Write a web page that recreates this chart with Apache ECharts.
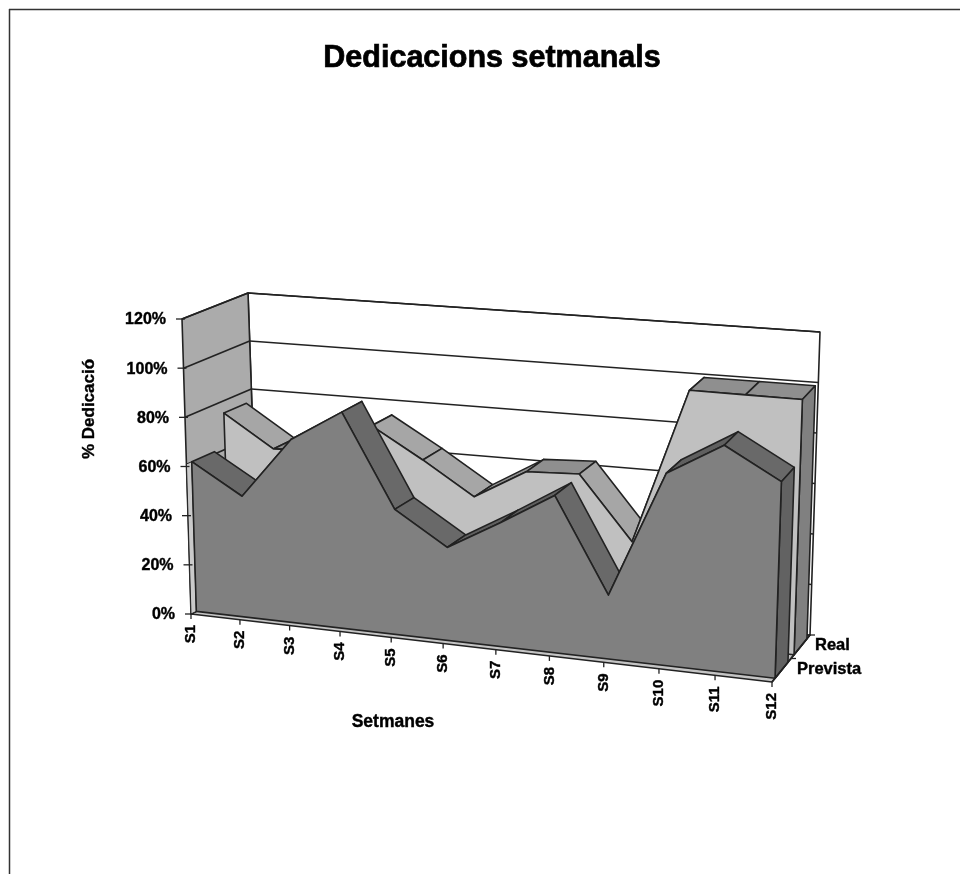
<!DOCTYPE html>
<html>
<head>
<meta charset="utf-8" />
<title>Dedicacions setmanals</title>
<script src="https://cdn.jsdelivr.net/npm/echarts@6/dist/echarts.min.js"></script>
<style>
html,body{margin:0;padding:0;background:#fff;}
#main{width:960px;height:874px;}
</style>
</head>
<body>
<div id="main"></div>
<script>
var setmanes = ['S1','S2','S3','S4','S5','S6','S7','S8','S9','S10','S11','S12'];
var prevista = [61,49,74,87,50,37,49,62,25,75,88,76];
var real = [75,62,63,75,63,50,62,63,38,100,100,100];
var yTicks = [0,20,40,60,80,100,120];
var fons = ['Prevista','Real'];

// placa del grafic (pla frontal), a partir d'aqui tot passa per project()
var G = {left:191, top:320, width:581, height:294};
var FONT = '"Liberation Sans", Arial, sans-serif';
var LINE = '#222222';

// cantonades de la caixa 3D: [u][v][w]
var C = {
  b00:[191,614], b10:[772,682], b01:[258,581], b11:[810,635],
  t00:[182,319], t10:[782,371], t01:[248,293], t11:[820,332]
};
function mix(a,b,t){ return [a[0]+(b[0]-a[0])*t, a[1]+(b[1]-a[1])*t]; }
function box(u,v,w){
  var bot = mix(mix(C.b00,C.b10,u), mix(C.b01,C.b11,u), v);
  var top = mix(mix(C.t00,C.t10,u), mix(C.t01,C.t11,u), v);
  return mix(bot,top,w);
}
// passa un punt de la graella plana a la caixa, amb una mica de perspectiva en u
function project(p,v){
  var t = (p[0]-G.left)/G.width;
  var u = 0.92*t/(1-0.08*t);
  var w = (G.top+G.height-p[1])/G.height;
  return box(u,v,w);
}
function poly(pts,fill,lw){
  return {type:'polygon', shape:{points:pts}, style:{fill:fill, stroke:LINE, lineWidth:lw||1.6, lineJoin:'round'}};
}
function seg(a,b,lw){
  return {type:'line', shape:{x1:a[0],y1:a[1],x2:b[0],y2:b[1]}, style:{stroke:LINE, lineWidth:lw||1.6}};
}
function txt(s,x,y,align,size,rot){
  return {type:'text', x:x, y:y, rotation:rot||0,
    style:{text:s, x:0, y:0, align:align, verticalAlign:'middle', fill:'#000', stroke:'#000', lineWidth:0.4, font:'bold '+size+'px '+FONT}};
}

function renderWalls(params,api){
  if(params.dataIndex!==0) return null;
  var last = setmanes.length-1, kids = [];
  var a0 = api.coord([0,0]), a1 = api.coord([last,0]), at = api.coord([0,120]), bt = api.coord([last,120]);
  kids.push(poly([project(a0,0),project(a1,0),project(a1,1),project(a0,1)],'#c4c4c4'));
  kids.push(poly([project(a0,1),project(a1,1),project(bt,1),project(at,1)],'#ffffff'));
  kids.push(poly([project(a0,0),project(a0,1),project(at,1),project(at,0)],'#ababab'));
  yTicks.forEach(function(t){
    var l = api.coord([0,t]), r = api.coord([last,t]);
    if(t>0){
      kids.push(seg(project(l,0),project(l,1),1.7));
      kids.push(seg(project(l,1),project(r,1),1.7));
    }
  });
  return {type:'group', children:kids};
}

function renderArea(values,v0,v1,face,strip,flat,side,edge){
  return function(params,api){
    if(params.dataIndex!==0) return null;
    var kids = [], front = [], last = values.length-1;
    var base0 = api.coord([0,0]), base1 = api.coord([last,0]);
    for(var i=0;i<last;i++){
      var a = api.coord([i,values[i]]), b = api.coord([i+1,values[i+1]]);
      var col = values[i+1]-values[i] > -3 ? flat : strip;
      kids.push(poly([project(a,v0),project(b,v0),project(b,v1),project(a,v1)],col));
    }
    var e = api.coord([last,values[last]]);
    kids.push(poly([project(base1,v0),project(e,v0),project(e,v1),project(base1,v1)],side));
    if(edge){
      var f = api.coord([0,values[0]]);
      kids.push(poly([project(base0,0),project(base0,v0),project(f,v0),project(f,0)],edge,1));
    }
    front.push(project(base0,v0));
    values.forEach(function(val,k){ front.push(project(api.coord([k,val]),v0)); });
    front.push(project(base1,v0));
    kids.push(poly(front,face));
    return {type:'group', children:kids};
  };
}

function renderAxes(params,api){
  if(params.dataIndex!==0) return null;
  var last = setmanes.length-1, kids = [];
  yTicks.forEach(function(t){
    var p = project(api.coord([0,t]),0);
    kids.push(seg([p[0]-6,p[1]],[p[0]+3,p[1]],1.3));
    kids.push(txt(t+'%',p[0]-16,p[1]+1,'right',16));
  });
  setmanes.forEach(function(s,i){
    var p = project(api.coord([i,0]),0);
    kids.push(seg(p,[p[0],p[1]+5],1.3));
    kids.push(txt(s,p[0],p[1]+11,'right',15,Math.PI/2));
  });
  var b = api.coord([last,0]);
  kids.push(seg(project(b,0),project(b,1),1.7));
  [0.5,1].forEach(function(v){
    var p = project(b,v);
    kids.push(seg(p,[p[0]+5,p[1]],1.3));
  });
  kids.push(txt(fons[0],797,669,'left',16.5));
  kids.push(txt(fons[1],815,645,'left',16.5));
  return {type:'group', children:kids};
}

function itemsOf(values){ return values.map(function(v,i){ return [i,v]; }); }

var chart = echarts.init(document.getElementById('main'));
chart.setOption({
  animation:false,
  backgroundColor:'#fff',
  title:{
    text:'Dedicacions setmanals', left:487, top:38, textAlign:'center',
    textStyle:{fontFamily:FONT, fontWeight:'bold', fontSize:30.5, color:'#000', textBorderColor:'#000', textBorderWidth:0.7}
  },
  grid:{left:G.left, top:G.top, width:G.width, height:G.height},
  xAxis:{type:'category', data:setmanes, boundaryGap:false, show:false},
  yAxis:{type:'value', min:0, max:120, interval:20, show:false},
  graphic:[
    {type:'line', shape:{x1:9,y1:9.5,x2:960,y2:9.5}, style:{stroke:'#333',lineWidth:1.5}},
    {type:'line', shape:{x1:9.5,y1:9,x2:9.5,y2:874}, style:{stroke:'#333',lineWidth:1.5}},
    {type:'text', x:393, y:722, style:{text:'Setmanes', align:'center', verticalAlign:'middle', fill:'#000', stroke:'#000', lineWidth:0.4, font:'bold 17.5px '+FONT}},
    {type:'text', x:89, y:409, rotation:Math.PI/2, style:{text:'% Dedicació', align:'center', verticalAlign:'middle', fill:'#000', stroke:'#000', lineWidth:0.4, font:'bold 17px '+FONT}}
  ],
  series:[
    {type:'custom', name:'parets', silent:true, data:itemsOf(prevista), renderItem:renderWalls},
    {type:'custom', name:'Real', silent:true, data:itemsOf(real),
      renderItem:renderArea(real,0.58,0.92,'#c0c0c0','#a6a6a6','#8f8f8f','#808080')},
    {type:'custom', name:'Prevista', silent:true, data:itemsOf(prevista),
      renderItem:renderArea(prevista,0.08,0.42,'#808080','#696969','#5f5f5f','#626262','#cacaca')},
    {type:'custom', name:'eixos', silent:true, data:itemsOf(prevista), renderItem:renderAxes}
  ]
});
</script>
</body>
</html>
